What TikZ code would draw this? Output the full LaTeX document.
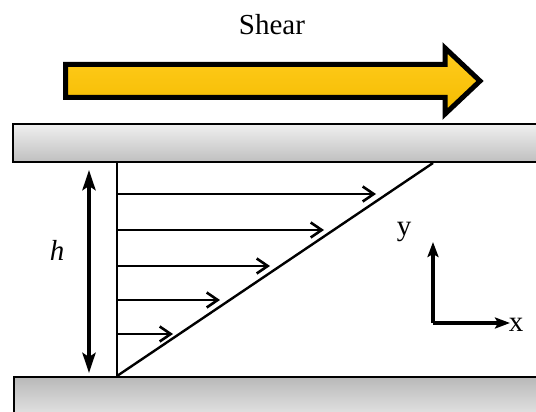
\documentclass[tikz,border=0pt]{standalone}
\usepackage{fontspec}
\setmainfont{Liberation Serif}
\usetikzlibrary{arrows.meta}
\definecolor{goldtop}{RGB}{255,204,30}
\definecolor{goldbot}{RGB}{245,188,0}
\begin{document}
\begin{tikzpicture}[x=1pt,y=-1pt,
  plate/.style={draw=black,line width=2.5pt},
  vel/.style={line width=2.6pt,-{Straight Barb[length=11pt,width=15pt,line width=2.6pt]}},
  ax/.style={line width=3.6pt,-{Stealth[length=15pt,width=11pt,inset=3pt]}},
  lbl/.style={font=\fontsize{29}{31}\selectfont,inner sep=0pt}]
\useasboundingbox (0,0) rectangle (536,412);
\clip (0,0) rectangle (536,412);
% shear arrow
\node[lbl] (shear) at (272,25) {Shear};
\draw[line width=5pt,line join=miter,top color=goldtop,bottom color=goldbot]
  (65.5,64.5) -- (445,64.5) -- (445,48) -- (480,81) -- (445,114) -- (445,97.5) -- (65.5,97.5) -- cycle;
% plates
\draw[plate,top color=gray!12,bottom color=gray!50] (13,124) rectangle (545,162);
\draw[plate,top color=gray!55,bottom color=gray!10] (14,377) rectangle (545,430);
% profile
\coordinate (base) at (117,376);
\coordinate (top) at (117,163);
\coordinate (diag) at (433,163);
\draw[line width=2.6pt] (top) -- (base);
\draw[line width=2.4pt] (base) -- (diag);
\foreach \yy/\xx in {194/376,230/324,266/270,300/220,334/173}{
  \coordinate (s\yy) at (117,\yy);
  \coordinate (e\yy) at (\xx,\yy);
  \draw[vel] (s\yy) -- (e\yy);
}
% h
\coordinate (h1) at (89,170);
\coordinate (h2) at (89,373);
\draw[line width=4pt,{Stealth[length=20pt,width=13pt,inset=4pt]}-{Stealth[length=20pt,width=13pt,inset=4pt]}] (h1) -- (h2);
\node[lbl] (h) at (57,250) {\itshape h};
% axes
\coordinate (o) at (433,323);
\coordinate (ya) at (433,242);
\coordinate (xa) at (510,323);
\draw[ax] (o) -- (ya);
\draw[ax] (o) -- (xa);
\node[lbl] (ylab) at (404,232) {y};
\node[lbl] (xlab) at (516,325) {x};
\end{tikzpicture}
\end{document}
